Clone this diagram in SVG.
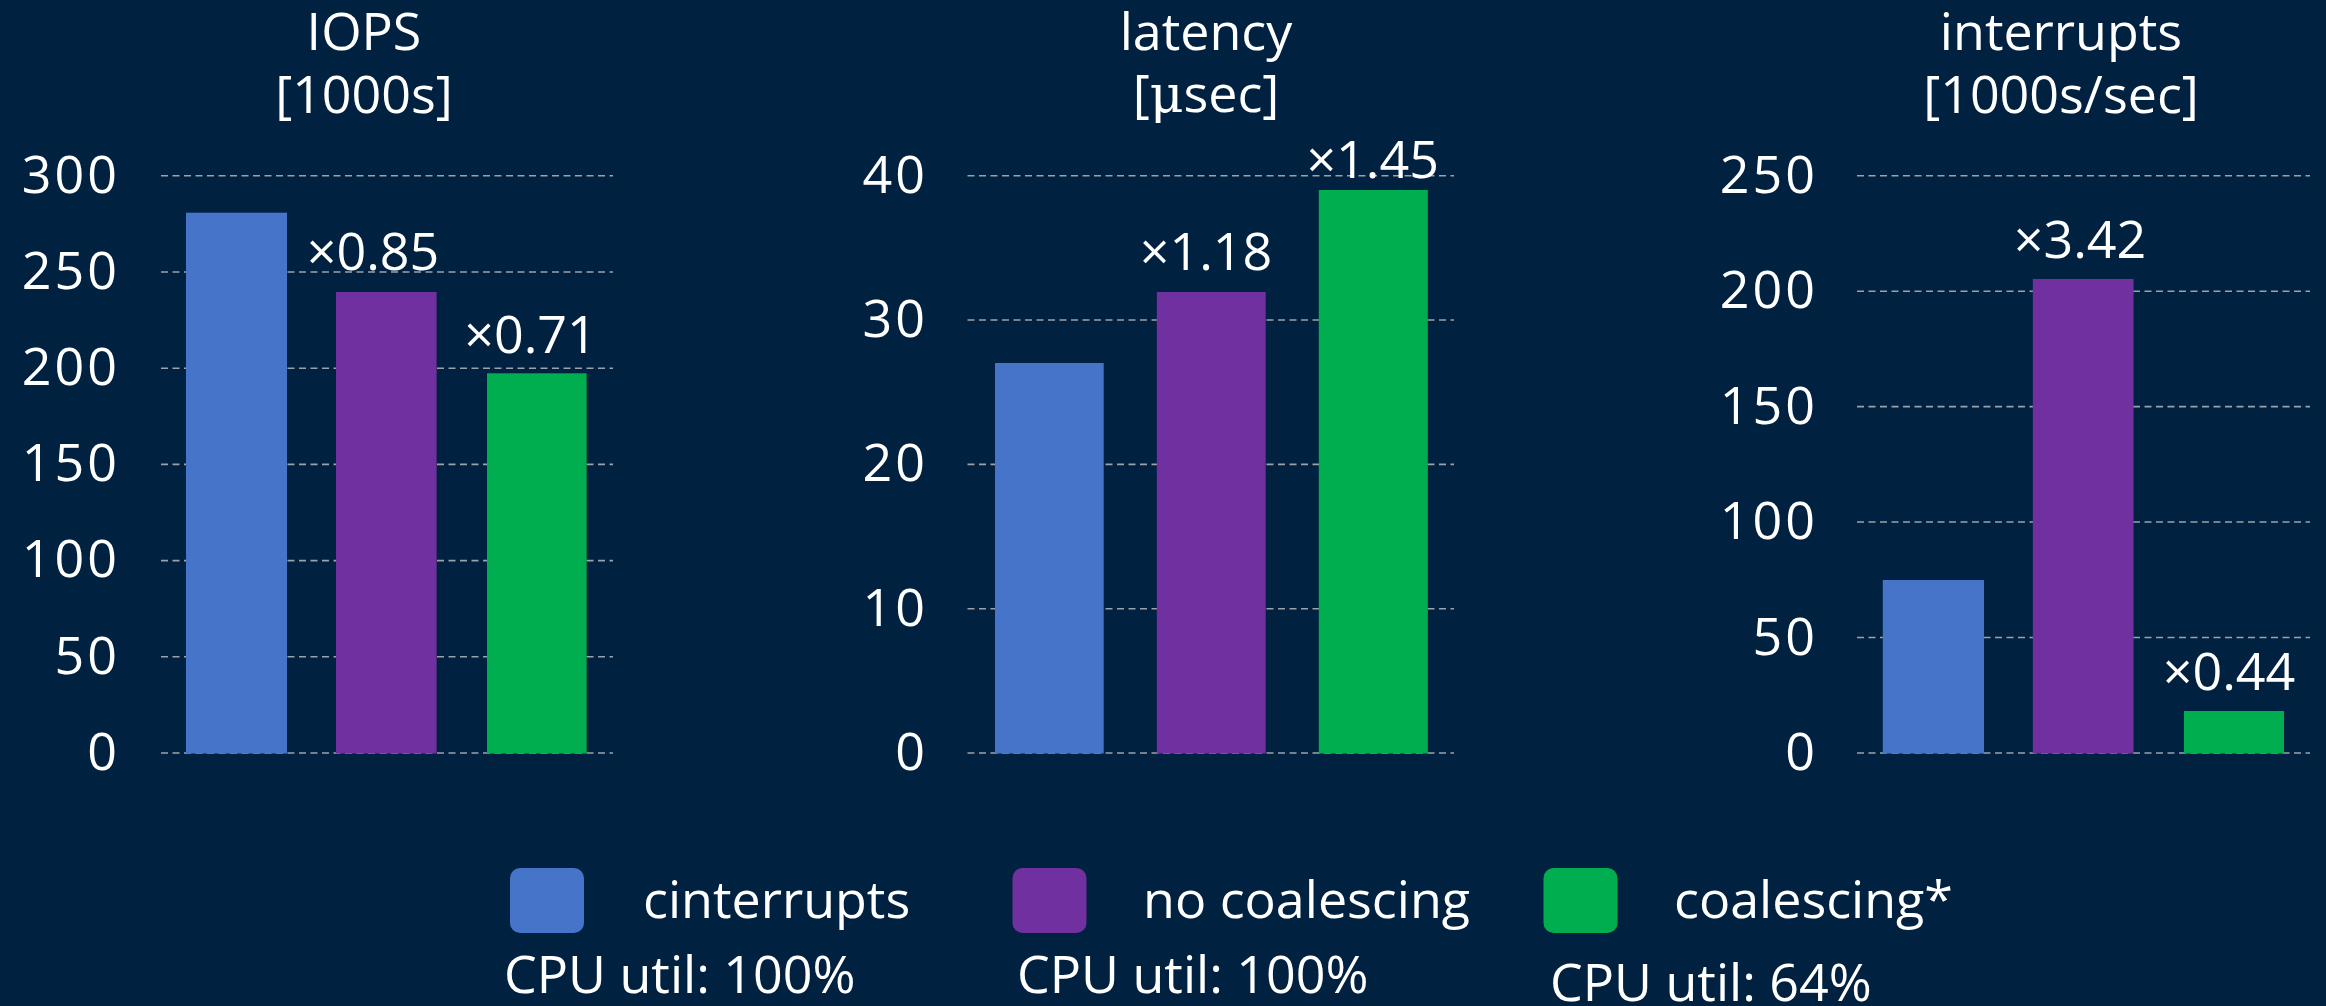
<svg xmlns="http://www.w3.org/2000/svg" width="2326" height="1006" viewBox="0 0 2326 1006">
<style>
text{font-family:"Open Sans","Noto Sans","Liberation Sans",sans-serif;fill:#ffffff;font-size:52px}
.t{text-anchor:middle}
.y{text-anchor:end;letter-spacing:3px}
.a{text-anchor:middle}
.g{stroke:#9aa2ac;stroke-width:1.6;stroke-dasharray:7 4.5;fill:none}
.b{fill:#4674C8}.p{fill:#7030A0}.n{fill:#00AE50}
</style>
<rect width="2326" height="1006" fill="#00213F"/>
<g id="chart-iops">
<text class="t" x="364" y="50">IOPS</text>
<text class="t" x="364" y="113">[1000s]</text>
<g class="g">
<line x1="161" y1="175.7" x2="613" y2="175.7"/>
<line x1="161" y1="272" x2="613" y2="272"/>
<line x1="161" y1="368.2" x2="613" y2="368.2"/>
<line x1="161" y1="464.4" x2="613" y2="464.4"/>
<line x1="161" y1="560.6" x2="613" y2="560.6"/>
<line x1="161" y1="656.8" x2="613" y2="656.8"/>
<line x1="161" y1="753" x2="613" y2="753"/>
</g>
<text class="y" x="120" y="193">300</text>
<text class="y" x="120" y="289">250</text>
<text class="y" x="120" y="385">200</text>
<text class="y" x="120" y="481">150</text>
<text class="y" x="120" y="577">100</text>
<text class="y" x="120" y="674">50</text>
<text class="y" x="120" y="770">0</text>
<rect class="b" x="186" y="212.7" width="101" height="540.8"/>
<rect class="p" x="336" y="292" width="100.6" height="461.5"/>
<rect class="n" x="487" y="373.3" width="99.6" height="380.2"/>
<text class="a" x="373" y="270">×0.85</text>
<text class="a" x="530.5" y="353">×0.71</text>
</g>
<g id="chart-latency">
<text class="t" x="1206" y="50">latency</text>
<text class="t" x="1206" y="112">[<tspan font-family="DejaVu Serif, serif">μ</tspan>sec]</text>
<g class="g">
<line x1="967.5" y1="175.7" x2="1454" y2="175.7"/>
<line x1="967.5" y1="320" x2="1454" y2="320"/>
<line x1="967.5" y1="464.4" x2="1454" y2="464.4"/>
<line x1="967.5" y1="608.7" x2="1454" y2="608.7"/>
<line x1="967.5" y1="753" x2="1454" y2="753"/>
</g>
<text class="y" x="928" y="193">40</text>
<text class="y" x="928" y="337">30</text>
<text class="y" x="928" y="481">20</text>
<text class="y" x="928" y="626">10</text>
<text class="y" x="928" y="770">0</text>
<rect class="b" x="995" y="363" width="108.7" height="390.5"/>
<rect class="p" x="1156.8" y="292" width="108.9" height="461.5"/>
<rect class="n" x="1318.8" y="190" width="109" height="563.5"/>
<text class="a" x="1206" y="270">×1.18</text>
<text class="a" x="1372.7" y="178">×1.45</text>
</g>
<g id="chart-interrupts">
<text class="t" x="2061" y="50">interrupts</text>
<text class="t" x="2061" y="113">[1000s/sec]</text>
<g class="g">
<line x1="1857" y1="175.7" x2="2310" y2="175.7"/>
<line x1="1857" y1="291.2" x2="2310" y2="291.2"/>
<line x1="1857" y1="406.6" x2="2310" y2="406.6"/>
<line x1="1857" y1="522" x2="2310" y2="522"/>
<line x1="1857" y1="637.5" x2="2310" y2="637.5"/>
<line x1="1857" y1="753" x2="2310" y2="753"/>
</g>
<text class="y" x="1818" y="193">250</text>
<text class="y" x="1818" y="308">200</text>
<text class="y" x="1818" y="424">150</text>
<text class="y" x="1818" y="539">100</text>
<text class="y" x="1818" y="655">50</text>
<text class="y" x="1818" y="770">0</text>
<rect class="b" x="1882.8" y="580" width="101.2" height="173.5"/>
<rect class="p" x="2032.8" y="279" width="100.8" height="474.5"/>
<rect class="n" x="2184" y="711" width="100" height="42.5"/>
<text class="a" x="2080" y="258">×3.42</text>
<text class="a" x="2229" y="690">×0.44</text>
</g>
<g id="legend">
<rect class="b" x="510" y="868" width="74" height="65" rx="10"/>
<text x="643" y="918">cinterrupts</text>
<text x="504" y="993">CPU util: 100%</text>
<rect class="p" x="1012.5" y="868" width="74" height="65" rx="10"/>
<text x="1143" y="918">no coalescing</text>
<text x="1017" y="993">CPU util: 100%</text>
<rect class="n" x="1543.5" y="868" width="74" height="65" rx="10"/>
<text x="1674" y="918">coalescing*</text>
<text x="1550" y="1001">CPU util: 64%</text>
</g>
</svg>
